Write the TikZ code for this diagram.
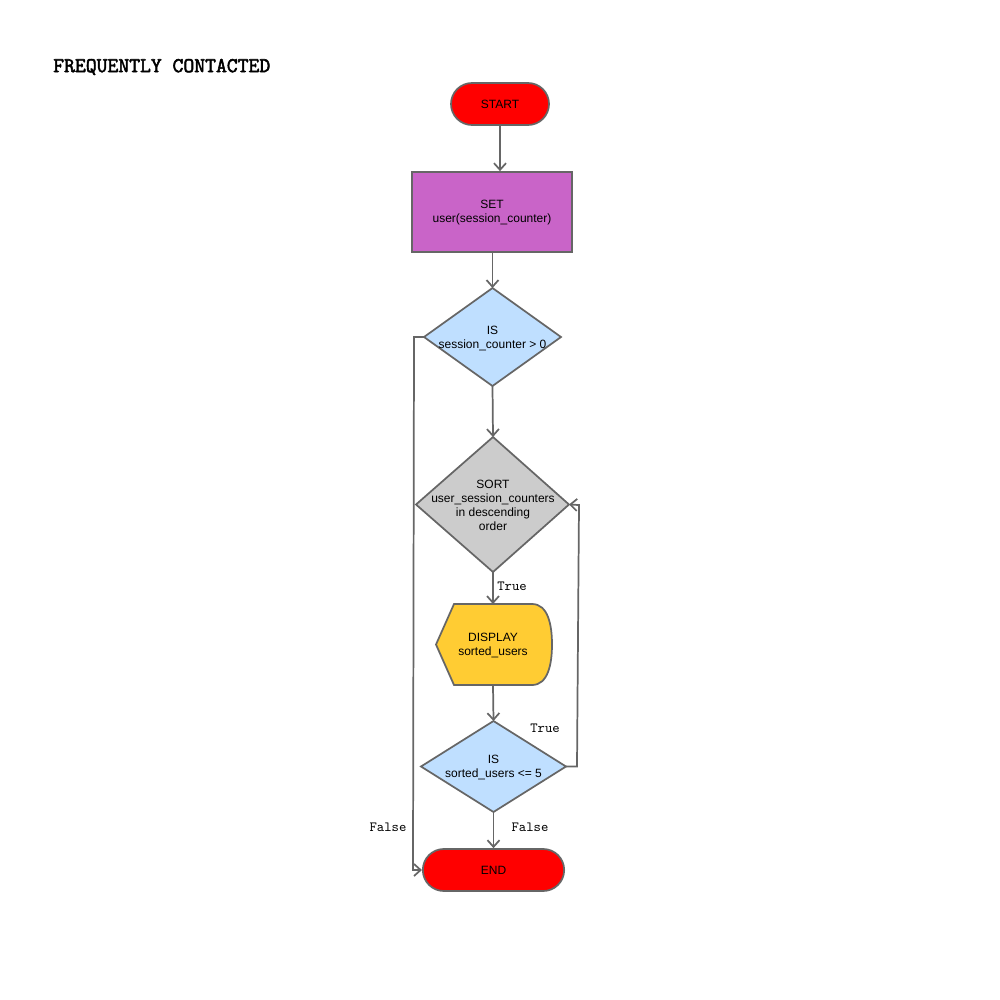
\documentclass[tikz,border=0pt]{standalone}
\usepackage{fontspec}
\setmainfont{Liberation Sans}
\newfontfamily\titlefont[FakeBold=2.5]{Latin Modern Mono}
\usetikzlibrary{shapes.geometric,shapes.misc,arrows.meta}
\definecolor{edgegray}{HTML}{666666}
\definecolor{termred}{HTML}{FF0000}
\definecolor{setpurple}{HTML}{C964C8}
\definecolor{decblue}{HTML}{BFDFFF}
\definecolor{sortgray}{HTML}{CCCCCC}
\definecolor{dispyellow}{HTML}{FFCC33}
\tikzset{
  base/.style={draw=edgegray, line width=1.3pt, font=\fontsize{9}{10.5}\selectfont, align=center, inner sep=0pt},
  term/.style={base, fill=termred, rounded rectangle},
  procbox/.style={base, fill=setpurple, rectangle},
  shapeline/.style={draw=edgegray, line width=1.3pt, line join=miter},
  txt/.style={font=\fontsize{9}{10.5}\selectfont, align=center, inner sep=0pt},
  conn/.style={draw=edgegray, line width=1.3pt, -{Straight Barb[length=5pt,width=9pt]}},
  lbl/.style={font=\ttfamily\fontsize{10.5}{11}\selectfont, inner sep=0pt}
}
\begin{document}
\begin{tikzpicture}[x=0.75pt,y=-0.75pt]
\useasboundingbox (0,0) rectangle (1000,1000);
\node[anchor=west, font=\titlefont\fontsize{15.8}{16}\selectfont, inner sep=0pt] (title) at (53,67) {FREQUENTLY CONTACTED};
\node[term, minimum width=73.5pt, minimum height=31.5pt] (start) at (500,104) {START};
\node[procbox, minimum width=120pt, minimum height=60pt] (set) at (492,212) {};
\node[txt] (settxt) at (492,213) {SET\\user(session\_counter)};
% decision 1
\coordinate (d1n) at (492.5,288);
\coordinate (d1e) at (561,337);
\coordinate (d1s) at (492.5,386);
\coordinate (d1w) at (424,337);
\draw[shapeline, fill=decblue] (d1n) -- (d1e) -- (d1s) -- (d1w) -- cycle;
\node[txt] (dec1) at (492.5,338) {IS\\session\_counter > 0};
% sort
\coordinate (d2n) at (493,437);
\coordinate (d2e) at (569,504.5);
\coordinate (d2s) at (493,572);
\coordinate (d2w) at (416,504.5);
\draw[shapeline, fill=sortgray] (d2n) -- (d2e) -- (d2s) -- (d2w) -- cycle;
\node[txt] (sort) at (493,505.5) {SORT\\user\_session\_counters\\in descending\\order};
% display shape
\coordinate (dpn) at (493,604);
\coordinate (dps) at (493,685);
\draw[shapeline, fill=dispyellow]
  (436,644.5) -- (454,604) -- (532,604) .. controls (548,604) and (552,625) .. (552,644.5)
  .. controls (552,664) and (548,685) .. (532,685) -- (454,685) -- cycle;
\node[txt] (disp) at (493,645.5) {DISPLAY\\sorted\_users};
% decision 3
\coordinate (d3n) at (493.5,721);
\coordinate (d3e) at (566,766.5);
\coordinate (d3s) at (493.5,812);
\coordinate (d3w) at (421,766.5);
\draw[shapeline, fill=decblue] (d3n) -- (d3e) -- (d3s) -- (d3w) -- cycle;
\node[txt] (dec3) at (493.5,767.5) {IS\\sorted\_users <= 5};
\node[term, minimum width=106pt, minimum height=31.5pt] (end) at (493.5,870) {END};
% connectors
\draw[conn] (start.south) -- (start.south |- set.north);
\draw[conn] (set.south -| d1n) -- (d1n);
\draw[conn] (d1s) -- (d2n);
\draw[conn] (d2s) -- (dpn);
\node[lbl] (lt1) at (512,586) {True};
\draw[conn] (dps) -- (d3n);
\draw[conn] (d3s) -- (end.north);
\node[lbl] (lf2) at (530,827) {False};
\coordinate (r1) at (577,766.5);
\coordinate (r2) at (579,505);
\draw[conn] (d3e) -- (r1) -- (r2) -- (d2e);
\node[lbl] (lt2) at (545,728) {True};
\coordinate (l1) at (414,337);
\coordinate (l2) at (413,870);
\draw[conn] (d1w) -- (l1) -- (l2) -- (end.west);
\node[lbl] (lf1) at (388,827) {False};
\end{tikzpicture}
\end{document}
